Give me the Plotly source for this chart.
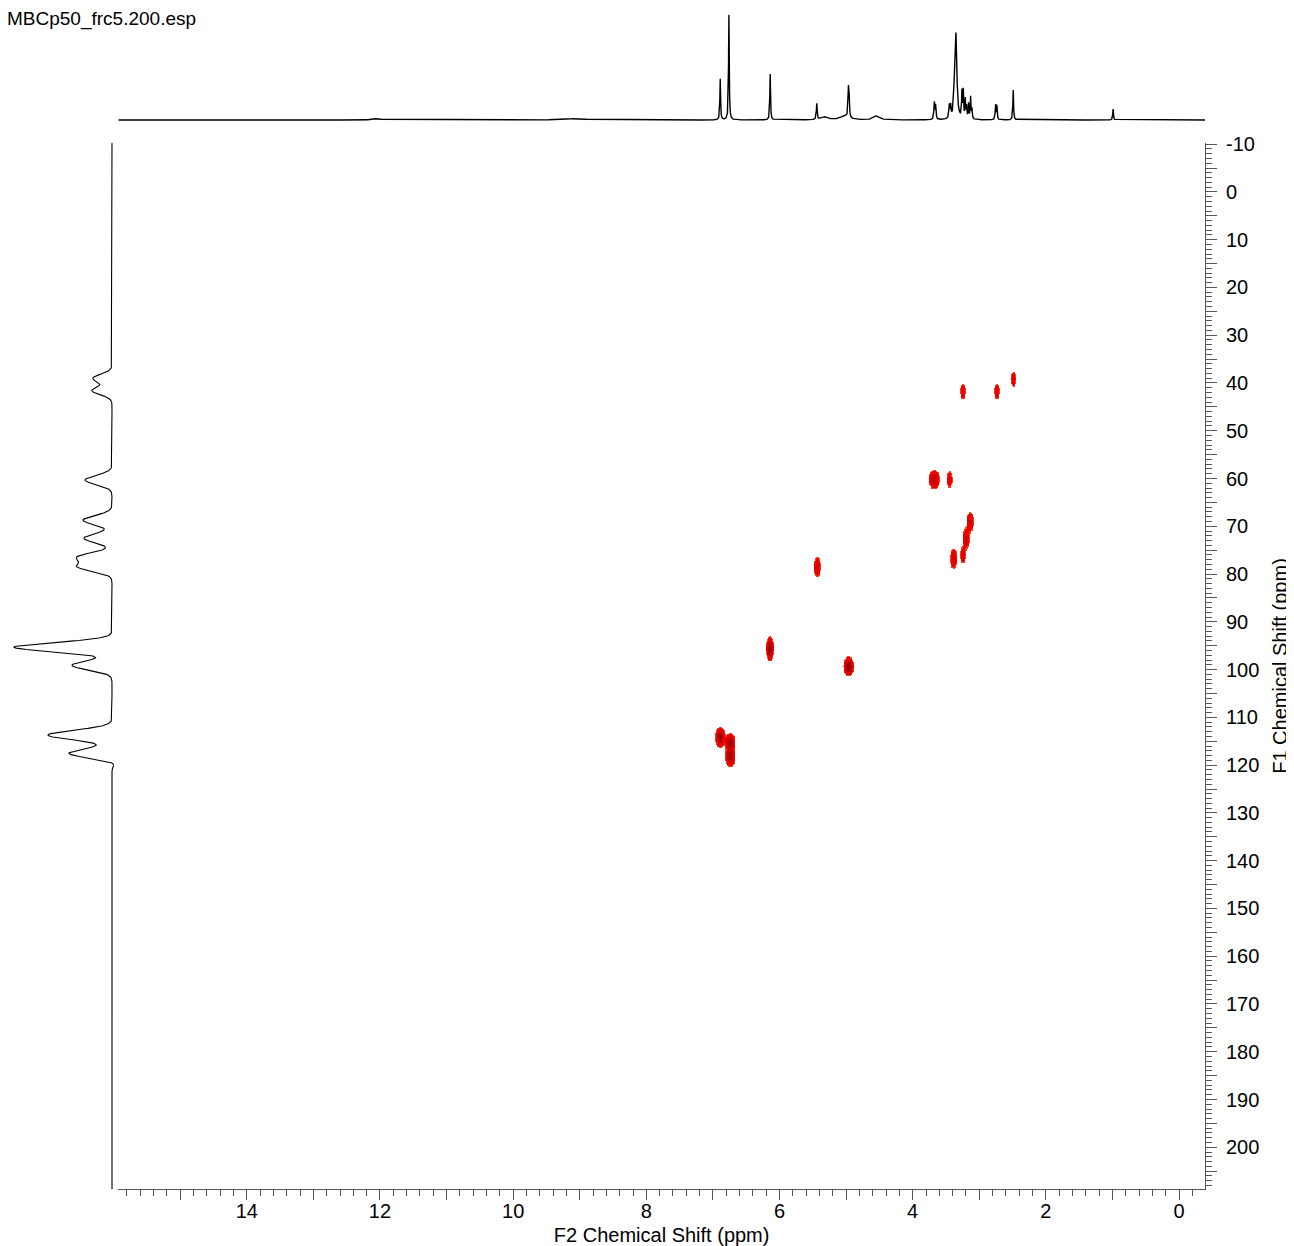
import numpy as np
import plotly.graph_objects as go

# ---------------- data ----------------
# 1D 1H projection (top trace): peak position (ppm), height (a.u.), half-width (ppm)
h_ppm    = [12.04, 9.05, 6.89, 6.76, 6.14, 5.44, 5.32, 5.02, 4.965, 4.955, 4.54,
            3.675, 3.655, 3.45, 3.43, 3.38, 3.35, 3.26, 3.24, 3.21, 3.19, 3.16,
            3.13, 3.11, 2.755, 2.735, 2.49, 0.99]
h_height = [1.5, 1.5, 41, 105, 46, 16, 3, 4, 26, 22, 4,
            17, 14, 13, 12, 16, 86, 26, 27, 19, 12, 15,
            22, 10, 15, 14, 30, 11]
h_hwhm   = [0.06, 0.15, 0.006, 0.006, 0.006, 0.007, 0.05, 0.08, 0.006, 0.006, 0.05,
            0.007, 0.007, 0.007, 0.007, 0.008, 0.016, 0.006, 0.006, 0.006, 0.006, 0.006,
            0.006, 0.006, 0.006, 0.006, 0.006, 0.006]

# 1D 13C projection (left trace): peak position (ppm), height (a.u.), width (ppm)
c_ppm    = [39.0, 41.6, 60.3, 68.7, 72.5, 76.4, 78.5, 95.3, 99.1, 113.7, 117.5, 119.7]
c_height = [19, 20, 27, 29, 28, 33, 33, 98, 40, 64, 43, -4]
c_sigma  = [0.85, 0.85, 0.95, 0.95, 0.95, 0.9, 0.9, 0.95, 0.95, 1.0, 0.95, 0.5]

# 2D cross peaks: F2 (1H ppm), F1 (13C ppm), intensity, widths (ppm)
cp_f2  = [3.24, 2.73, 2.48, 3.67, 3.44, 3.13, 3.19, 3.24, 3.38, 5.43, 6.14, 4.96, 6.89, 6.74, 6.74]
cp_f1  = [41.8, 41.8, 39.2, 60.2, 60.2, 69.0, 72.5, 76.0, 76.7, 78.5, 95.6, 99.3, 114.1, 115.2, 118.2]
cp_amp = [4, 4, 4, 8, 4, 5, 5, 4, 5, 5, 12, 12, 10, 10, 10]
cp_sx  = [0.026, 0.026, 0.023, 0.042, 0.026, 0.031, 0.031, 0.028, 0.031, 0.031, 0.026, 0.036, 0.036, 0.036, 0.036]
cp_sy  = [1.0, 1.0, 1.0, 1.0, 1.05, 1.15, 1.2, 1.05, 1.2, 1.2, 1.2, 0.95, 1.05, 0.95, 1.05]

# axis ranges and ticks
f2_range = [15.93, -0.39]
f1_range = [208.8, -10.3]
f2_tickvals = list(range(0, 16))
f2_ticktext = [str(v) if v % 2 == 0 else "" for v in f2_tickvals]
f1_tickvals = list(range(-10, 210, 5))
f1_ticktext = [str(v) if v % 10 == 0 else "" for v in f1_tickvals]

title_text = "MBCp50_frc5.200.esp"

# ---------------- build traces ----------------
OFF = 8                      # page body margin of the html
W, H = 1294 - OFF, 1246 - OFF
FONT = "Arial, 'Liberation Sans', Helvetica, sans-serif"


def fx(p):
    return (p - OFF) / W


def fy(p):
    return 1 - (p - OFF) / H


# top 1D spectrum
hx = np.arange(f2_range[1], f2_range[0] + 1e-9, 0.002)
hy = np.zeros_like(hx)
for p, a, w in zip(h_ppm, h_height, h_hwhm):
    hy += a / (1 + ((hx - p) / w) ** 2)

# left 1D spectrum
cy = np.arange(f1_range[1], f1_range[0] + 1e-9, 0.1)
cx = np.zeros_like(cy)
for p, a, s in zip(c_ppm, c_height, c_sigma):
    cx += a * np.exp(-((cy - p) ** 2) / (2 * s * s))

# 2D map
gx = np.round(np.arange(2.3, 7.1001, 0.01), 3)
gy = np.round(np.arange(35.0, 123.001, 0.25), 3)
GX, GY = np.meshgrid(gx, gy)
Z = np.zeros_like(GX)
for x0, y0, a, sx, sy in zip(cp_f2, cp_f1, cp_amp, cp_sx, cp_sy):
    Z += a * np.exp(-((GX - x0) ** 2) / (2 * sx * sx) - ((GY - y0) ** 2) / (2 * sy * sy))
Zl = np.where(Z >= 1.0, np.round(Z, 2), np.nan)
zlist = [[None if np.isnan(v) else float(v) for v in row] for row in Zl]

fig = go.Figure()

fig.add_trace(go.Heatmap(
    x=gx, y=gy, z=zlist, xaxis="x", yaxis="y",
    zmin=1, zmax=12, zsmooth=False, showscale=False, hoverinfo="skip",
    colorscale=[[0.0, "#ff3a1a"], [0.06, "#ff3a1a"], [0.06, "#e80000"],
                [0.32, "#e80000"], [0.32, "#c80000"], [0.64, "#c80000"],
                [0.64, "#940000"], [1.0, "#940000"]],
))

fig.add_trace(go.Scatter(x=hx, y=np.round(hy, 3), xaxis="x", yaxis="y2", mode="lines",
                         line=dict(color="black", width=1.4), hoverinfo="skip", showlegend=False))
fig.add_trace(go.Scatter(x=np.round(cx, 3), y=cy, xaxis="x3", yaxis="y", mode="lines",
                         line=dict(color="black", width=1.1), hoverinfo="skip", showlegend=False))

axcol = "#555555"
fig.update_layout(
    width=W, height=H, template="none",
    margin=dict(l=0, r=0, t=0, b=0),
    paper_bgcolor="white", plot_bgcolor="rgba(0,0,0,0)",
    font=dict(family=FONT, size=20, color="black"),
    showlegend=False,
    xaxis=dict(
        domain=[fx(118.3), fx(1205)], range=f2_range, anchor="y",
        showgrid=False, zeroline=False, showline=True, linecolor=axcol, linewidth=1,
        ticks="outside", ticklen=10, tickwidth=1, tickcolor=axcol,
        tickmode="array", tickvals=f2_tickvals, ticktext=f2_ticktext,
        tickfont=dict(size=20, family=FONT, color="black"), ticklabelstandoff=-6,
        minor=dict(tickmode="linear", tick0=0, dtick=0.2, ticks="outside",
                   ticklen=6, tickwidth=1, tickcolor=axcol, showgrid=False),
        title=dict(text="F2 Chemical Shift (ppm)", font=dict(size=20, family=FONT), standoff=9),
        automargin=False,
    ),
    yaxis=dict(
        domain=[fy(1189.3), fy(142.7)], range=f1_range, anchor="x", side="right",
        showgrid=False, zeroline=False, showline=True, linecolor=axcol, linewidth=1,
        ticks="outside", ticklen=11, tickwidth=1, tickcolor=axcol,
        tickmode="array", tickvals=f1_tickvals, ticktext=f1_ticktext,
        tickfont=dict(size=20, family=FONT, color="black"), ticklabelstandoff=5,
        minor=dict(tickmode="linear", tick0=0, dtick=1, ticks="outside",
                   ticklen=6, tickwidth=1, tickcolor=axcol, showgrid=False),
        title=dict(text="F1 Chemical Shift (ppm)", font=dict(size=20, family=FONT), standoff=14),
        automargin=False,
    ),
    yaxis2=dict(
        domain=[fy(122), fy(10)], range=[-2, 110], anchor="x",
        visible=False, showgrid=False, zeroline=False,
    ),
    xaxis3=dict(
        domain=[0, fx(114)], range=[112 - OFF, -2], anchor="y",
        visible=False, showgrid=False, zeroline=False,
    ),
    annotations=[dict(
        text=title_text, xref="paper", yref="paper", x=0, y=1,
        xanchor="left", yanchor="top", xshift=-3, yshift=2, showarrow=False,
        font=dict(size=19, family=FONT, color="black"),
    )],
)

fig.write_html("out.html")
